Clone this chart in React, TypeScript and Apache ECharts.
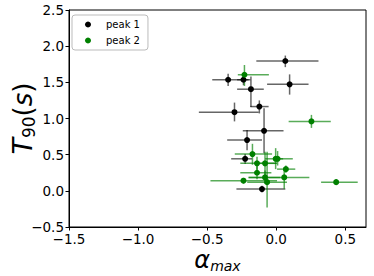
import React, { useEffect, useRef } from "react";
import * as echarts from "echarts";

// peak 1 (black)
const peak1X = [0.066, -0.348, -0.237, -0.183, 0.097, -0.122, -0.302, -0.088, -0.211, -0.225, -0.103];
const peak1Y = [1.795, 1.536, 1.536, 1.405, 1.472, 1.165, 1.087, 0.83, 0.702, 0.443, 0.024];
const peak1XLo = [-0.144, -0.463, -0.283, -0.283, -0.066, -0.187, -0.56, -0.242, -0.355, -0.326, -0.288];
const peak1XHi = [0.306, -0.2, -0.187, -0.09, 0.234, -0.055, -0.127, 0.053, -0.103, -0.175, 0.066];
const peak1YLo = [1.71, 1.45, 1.46, 1.16, 1.33, 1.07, 0.96, 0.52, 0.56, 0.37, -0.02];
const peak1YHi = [1.87, 1.62, 1.6, 1.58, 1.61, 1.25, 1.22, 1.14, 0.84, 0.51, 0.07];

// peak 2 (green)
const peak2X = [-0.23, 0.255, -0.172, -0.139, -0.081, -0.004, 0.01, 0.07, -0.139, -0.081, 0.058, -0.237, -0.066, 0.434];
const peak2Y = [1.605, 0.96, 0.508, 0.38, 0.38, 0.443, 0.443, 0.3, 0.25, 0.186, 0.186, 0.14, 0.12, 0.12];
const peak2XLo = [-0.278, 0.09, -0.3, -0.26, -0.16, -0.08, -0.02, 0.006, -0.26, -0.2, -0.2, -0.476, -0.21, 0.325];
const peak2XHi = [-0.053, 0.395, -0.03, 0.006, 0.0, 0.12, 0.05, 0.138, -0.035, 0.03, 0.24, 0.006, 0.078, 0.59];
const peak2YLo = [1.45, 0.87, 0.36, 0.29, 0.2, 0.3, 0.35, 0.25, 0.16, 0.1, 0.03, 0.1, -0.23, 0.08];
const peak2YHi = [1.74, 1.05, 0.65, 0.47, 0.54, 0.59, 0.55, 0.35, 0.34, 0.28, 0.29, 0.18, 0.54, 0.16];

const seriesNames = ["peak 1", "peak 2"];
const FONT = "DejaVu Sans";

function fmt(v: number): string {
  if (Math.abs(v * 2 - Math.round(v * 2)) > 1e-6) return "";
  const r = Math.abs(v) < 1e-9 ? 0 : v;
  return r.toFixed(1).replace("-", "\u2212");
}

function errData(x: number[], y: number[], xl: number[], xh: number[], yl: number[], yh: number[]) {
  return x.map((v, i) => [v, y[i], xl[i], xh[i], yl[i], yh[i]]);
}

function errSeries(name: string, data: number[][], color: string) {
  return {
    type: "custom",
    name,
    data,
    encode: { x: 0, y: 1 },
    silent: true,
    renderItem: (params: any, api: any) => {
      const x = api.value(0);
      const y = api.value(1);
      const a = api.coord([api.value(2), y]);
      const b = api.coord([api.value(3), y]);
      const c = api.coord([x, api.value(4)]);
      const d = api.coord([x, api.value(5)]);
      const style = { stroke: color, lineWidth: 1.5, fill: null };
      return {
        type: "group",
        children: [
          { type: "line", shape: { x1: a[0], y1: a[1], x2: b[0], y2: b[1] }, style },
          { type: "line", shape: { x1: c[0], y1: c[1], x2: d[0], y2: d[1] }, style },
        ],
      };
    },
  };
}

export default function App() {
  const ref = useRef<HTMLDivElement>(null);
  useEffect(() => {
    if (!ref.current) return;
    const chart = echarts.init(ref.current, null, { renderer: "svg" });
    chart.setOption({
      animation: false,
      textStyle: { fontFamily: FONT },
      grid: {
        left: 69,
        top: 10,
        right: 8,
        bottom: 49,
        containLabel: false,
        outerBoundsMode: "none",
        show: true,
        borderColor: "#000",
        borderWidth: 1,
        backgroundColor: "transparent",
      },
      legend: {
        data: seriesNames,
        orient: "vertical",
        left: 72,
        top: 15,
        padding: [4, 8, 4, 13],
        itemGap: 5,
        itemWidth: 6,
        itemHeight: 6,
        borderColor: "#bbbbbb",
        borderWidth: 1,
        borderRadius: 3,
        backgroundColor: "#fff",
        textStyle: {
          fontFamily: FONT,
          fontSize: 10,
          color: "#000",
          lineHeight: 11,
          padding: [0, 0, 0, 10],
        },
      },
      xAxis: {
        type: "value",
        min: -1.5,
        max: 0.65,
        interval: 0.5,
        splitLine: { show: false },
        axisLine: { onZero: false, lineStyle: { color: "#000", width: 1 } },
        axisTick: { show: true, length: 3.5, lineStyle: { color: "#000" } },
        axisLabel: {
          formatter: fmt,
          showMaxLabel: false,
          margin: 5,
          fontSize: 13.5,
          color: "#000",
          fontFamily: FONT,
        },
        name: "{a|α}{s|max}",
        nameLocation: "middle",
        nameGap: 20,
        nameMoveOverlap: false,
        nameTextStyle: {
          rich: {
            a: { fontSize: 24, fontStyle: "italic", fontFamily: FONT, color: "#000" },
            s: { fontSize: 14, fontStyle: "italic", fontFamily: FONT, color: "#000", padding: [12, 0, 0, 0] },
          },
        },
      },
      yAxis: {
        type: "value",
        min: -0.5,
        max: 2.5,
        interval: 0.5,
        splitLine: { show: false },
        axisLine: { onZero: false, lineStyle: { color: "#000", width: 1 } },
        axisTick: { show: true, length: 3.5, lineStyle: { color: "#000" } },
        axisLabel: { formatter: fmt, margin: 5, fontSize: 13.5, color: "#000", fontFamily: FONT },
        name: "{t|T}{s|90}{p|(}{i|s}{p|)}",
        nameLocation: "middle",
        nameGap: 32,
        nameMoveOverlap: false,
        nameTextStyle: {
          rich: {
            t: { fontSize: 27, fontStyle: "italic", fontFamily: FONT, color: "#000" },
            s: { fontSize: 17, fontFamily: FONT, color: "#000", padding: [12, 0, 0, 0] },
            p: { fontSize: 26, fontFamily: FONT, color: "#000" },
            i: { fontSize: 26, fontStyle: "italic", fontFamily: FONT, color: "#000" },
          },
        },
      },
      series: [
        errSeries("err1", errData(peak1X, peak1Y, peak1XLo, peak1XHi, peak1YLo, peak1YHi), "rgba(0,0,0,0.6)"),
        {
          type: "scatter",
          name: seriesNames[0],
          data: peak1X.map((v, i) => [v, peak1Y[i]]),
          symbol: "circle",
          symbolSize: 6,
          itemStyle: { color: "#000", opacity: 1 },
        },
        errSeries("err2", errData(peak2X, peak2Y, peak2XLo, peak2XHi, peak2YLo, peak2YHi), "rgba(0,128,0,0.65)"),
        {
          type: "scatter",
          name: seriesNames[1],
          data: peak2X.map((v, i) => [v, peak2Y[i]]),
          symbol: "circle",
          symbolSize: 6,
          itemStyle: { color: "#008000", opacity: 1 },
        },
      ],
    });
    return () => chart.dispose();
  }, []);
  return (
    <div
      ref={ref}
      style={{ position: "absolute", left: 0, top: 0, width: 374, height: 276, background: "#fff" }}
    />
  );
}
